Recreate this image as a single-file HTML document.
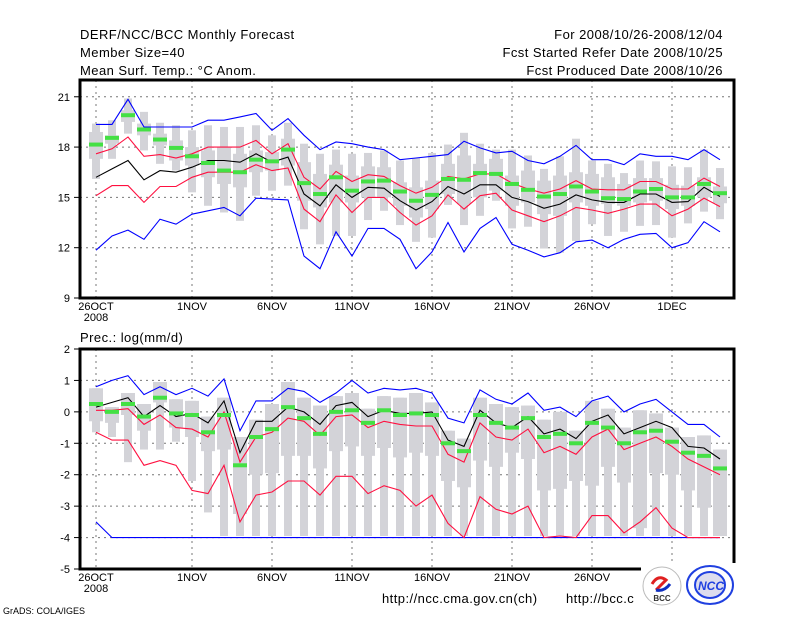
<!DOCTYPE html>
<html><head><meta charset="utf-8"><style>
html,body{margin:0;padding:0;background:#fff;}
svg{display:block;font-family:"Liberation Sans",sans-serif;}
</style></head><body>
<svg id="chart" width="800" height="618" viewBox="0 0 800 618" xmlns="http://www.w3.org/2000/svg">
<rect width="800" height="618" fill="#fff"/>
<g font-size="13" fill="#000" letter-spacing="0.45">
<text x="80" y="39">DERF/NCC/BCC Monthly Forecast</text>
<text x="80" y="57">Member Size=40</text>
<text x="80" y="75">Mean Surf. Temp.: °C Anom.</text>
<text x="723" y="39" text-anchor="end">For 2008/10/26-2008/12/04</text>
<text x="723" y="57" text-anchor="end">Fcst Started Refer Date 2008/10/25</text>
<text x="723" y="75" text-anchor="end">Fcst Produced Date 2008/10/26</text>
<text x="80" y="342">Prec.: log(mm/d)</text>
<text x="382" y="603">http://ncc.cma.gov.cn(ch)</text>
<text x="566" y="603">http://bcc.c</text>
<text x="3" y="614" font-size="9" letter-spacing="0">GrADS: COLA/IGES</text>
</g>
<g id="top"></g>
<g id="bot"></g>
<g>
<rect x="641" y="563" width="96" height="46" fill="#fff"/>
<circle cx="662" cy="586" r="19" fill="#fff" stroke="#bbb" stroke-width="1"/>
<path d="M652 584 q6 -10 14 -4 q-6 6 -10 10" fill="none" stroke="#e02020" stroke-width="3"/>
<path d="M656 590 q8 2 14 -6" fill="none" stroke="#1030c0" stroke-width="3"/>
<text x="662" y="601" font-size="8" text-anchor="middle" font-weight="bold" fill="#333">BCC</text>
<ellipse cx="710" cy="585" rx="23" ry="19" fill="#fff" stroke="#2040e0" stroke-width="2"/>
<ellipse cx="710" cy="585" rx="15" ry="13" fill="#dde" stroke="#2040e0" stroke-width="2"/>
<text x="711" y="590" font-size="12" text-anchor="middle" font-style="italic" font-weight="bold" fill="#2040e0">NCC</text>
</g>
</svg>
<script>
// ---- Temperature panel data (days 0..39 from 2008-10-26) ----
const tBlueMax=[19.35,19.35,20.85,19.2,19.2,19.2,19.2,19.6,19.6,19.8,20.0,19.0,19.7,18.7,17.85,18.3,18.2,18.0,17.85,17.25,17.35,17.45,17.55,18.35,17.95,17.65,17.75,17.2,17.0,17.45,18.1,17.25,17.25,16.95,17.6,17.45,17.45,17.25,17.85,17.25];
const tRedHi=[17.6,17.9,18.6,17.45,17.55,17.35,17.6,18.0,18.0,18.0,18.4,17.6,18.2,16.2,15.5,16.55,15.95,16.35,16.25,15.7,15.25,15.6,16.25,16.1,16.4,16.4,15.85,15.5,15.25,15.5,16.0,15.5,15.45,15.45,15.95,15.95,15.5,15.5,16.15,15.65];
const tMean=[16.2,16.7,17.2,16.05,16.6,16.5,16.8,17.2,17.2,17.1,17.6,17.1,17.4,15.2,14.5,15.75,15.0,15.6,15.55,14.8,14.25,14.75,15.65,15.2,15.75,15.75,15.0,14.75,14.35,14.6,15.15,14.85,14.7,14.7,15.2,15.2,14.7,14.75,15.6,15.05];
const tRedLo=[15.1,15.7,15.7,14.7,15.65,15.65,16.2,16.5,16.5,16.5,16.95,16.6,16.75,14.3,13.55,15.15,14.1,15.0,15.0,14.1,13.35,13.9,15.15,14.3,15.1,15.25,14.25,13.9,13.55,13.9,14.4,14.25,14.05,14.3,14.6,14.6,13.9,14.3,14.95,14.45];
const tBlueMin=[11.85,12.7,13.05,12.5,13.7,13.4,14.0,14.2,14.4,13.9,14.95,14.9,14.85,11.5,10.75,12.95,11.5,13.15,13.15,12.5,10.75,11.75,13.5,11.75,13.15,13.8,12.2,11.85,11.45,11.7,12.35,12.45,12.0,12.5,12.8,12.85,12.0,12.3,13.55,12.95];
const tBoxHi=[19.4,19.6,20.9,20.1,19.45,19.3,19.0,19.3,19.2,19.2,19.3,18.7,19.45,18.2,17.6,17.85,17.6,17.65,17.8,17.2,17.35,17.65,18.15,18.85,18.2,17.85,17.85,17.5,16.7,17.45,18.5,17.2,17.0,16.45,17.2,17.15,16.85,16.8,17.85,16.75];
const tBoxLo=[16.1,17.3,18.8,17.8,17.0,16.6,15.3,14.5,14.1,13.6,15.1,15.4,15.7,13.1,12.2,12.7,12.7,13.65,14.2,13.35,12.35,12.6,14.55,13.35,13.9,14.8,13.15,13.25,11.95,11.7,12.4,13.4,12.7,12.95,13.3,13.35,12.6,13.45,14.15,13.7];
const tIqrHi=[18.9,18.7,20.2,19.4,18.8,18.4,18.0,17.8,18.0,17.6,17.8,17.7,18.5,17.1,16.4,16.95,16.3,16.85,16.8,15.9,15.6,16.0,17.0,17.5,17.0,17.3,16.3,16.6,16.0,16.3,16.5,16.4,16.2,15.8,16.15,16.15,15.75,15.7,16.2,15.65];
const tIqrLo=[17.3,18.2,19.5,18.7,18.1,17.2,16.9,16.2,15.8,15.6,16.5,16.6,16.9,14.8,14.4,14.7,14.7,15.0,15.0,14.5,13.8,14.3,15.2,14.6,15.0,15.4,14.5,14.7,14.0,13.9,14.7,14.5,14.6,14.5,14.7,14.8,14.3,14.5,15.0,14.65];
const tGreen=[18.15,18.55,19.9,19.05,18.45,17.95,17.45,17.05,16.6,16.5,17.25,17.15,17.85,15.85,15.2,16.2,15.4,15.95,16.0,15.35,14.8,15.15,16.1,16.05,16.45,16.4,15.8,15.45,15.05,15.2,15.65,15.35,14.95,14.9,15.35,15.5,15.0,15.0,15.8,15.25];
const tTicks=[9,12,15,18,21];
// ---- Precipitation panel data ----
const pBlueMax=[0.8,1.0,1.15,0.55,0.8,0.55,0.75,0.5,1.05,-0.6,0.35,0.35,0.75,0.65,0.3,0.6,1.0,0.6,0.75,0.7,0.75,0.6,-0.2,-0.35,0.7,0.4,0.25,0.6,0.05,0.15,-0.15,0.35,0.5,0.0,0.25,0.4,0.0,-0.4,-0.4,-0.8];
const pMean=[0.15,0.3,0.45,-0.15,0.2,-0.15,-0.05,-0.35,0.35,-1.3,-0.3,-0.3,0.15,0.0,-0.4,0.2,0.3,-0.15,0.05,-0.05,-0.05,0.0,-0.9,-1.1,0.05,-0.35,-0.5,-0.15,-0.7,-0.55,-0.85,-0.3,-0.1,-0.7,-0.5,-0.3,-0.5,-1.1,-1.15,-1.5];
const pRedHi=[0.05,0.05,0.1,-0.4,-0.1,-0.5,-0.55,-0.8,0.0,-1.6,-0.8,-0.65,-0.2,-0.3,-0.75,-0.15,-0.1,-0.5,-0.3,-0.4,-0.45,-0.45,-1.35,-1.6,-0.35,-0.8,-0.9,-0.55,-1.3,-1.1,-1.35,-0.8,-0.55,-1.2,-1.0,-0.8,-1.1,-1.5,-1.75,-2.0];
const pRedLo=[-0.65,-0.9,-0.9,-1.7,-1.55,-1.7,-2.5,-2.6,-1.7,-3.5,-2.65,-2.55,-2.2,-2.2,-2.65,-2.05,-2.05,-2.6,-2.35,-2.5,-3.0,-2.65,-3.55,-4.0,-2.7,-3.1,-3.25,-3.0,-4.0,-3.95,-4.0,-3.3,-3.3,-3.85,-3.5,-3.05,-3.7,-4.0,-4.0,-4.0];
const pBlueMin=[-3.5,-4,-4,-4,-4,-4,-4,-4,-4,-4,-4,-4,-4,-4,-4,-4,-4,-4,-4,-4,-4,-4,-4,-4,-4,-4,-4,-4,-4,-4,-4,-4,-4,-4,-4,-4,-4,-4,-4,-4];
const pBoxHi=[0.75,0.15,0.6,0.25,0.95,0.4,0.35,-0.15,0.45,-0.8,-0.25,0.25,0.95,0.45,0.2,0.5,0.6,0.1,0.5,0.45,0.6,0.3,-0.6,-0.85,0.45,0.25,0.15,0.2,-0.25,0.0,-0.6,0.35,0.1,-0.5,0.05,-0.05,-0.5,-0.8,-0.75,-1.2];
const pBoxLo=[-0.65,-0.8,-1.6,-1.2,-1.2,-0.95,-2.2,-3.2,-3.95,-3.95,-3.95,-3.95,-3.95,-3.95,-3.95,-3.95,-3.95,-3.95,-3.95,-3.95,-3.95,-3.95,-3.95,-3.95,-3.95,-3.95,-3.95,-3.95,-3.95,-3.95,-3.95,-3.95,-3.95,-3.95,-3.95,-3.95,-3.95,-3.95,-3.95,-3.95];
const pIqrLo=[-0.3,-0.35,-0.1,-0.6,0.3,-0.5,-0.8,-1.25,-1.2,-3.25,-2.0,-1.95,-1.4,-1.4,-1.8,-1.25,-1.1,-1.4,-1.15,-1.45,-1.3,-1.4,-2.2,-2.4,-1.55,-1.75,-1.3,-1.5,-2.5,-2.45,-2.2,-2.35,-1.75,-2.25,-3.7,-1.95,-2.0,-2.5,-3.05,-3.95];
const pGreen=[0.25,0.0,0.25,-0.15,0.45,-0.05,-0.1,-0.65,-0.1,-1.7,-0.8,-0.55,0.15,-0.2,-0.7,0.0,0.05,-0.35,0.05,-0.1,-0.05,-0.1,-1.0,-1.25,-0.1,-0.35,-0.5,-0.2,-0.8,-0.7,-1.0,-0.35,-0.5,-1.0,-0.65,-0.6,-0.95,-1.3,-1.4,-1.8];
const pTicks=[-5,-4,-3,-2,-1,0,1,2];
const dateLabels=["26OCT","1NOV","6NOV","11NOV","16NOV","21NOV","26NOV","1DEC"];
const dateDays=[0,6,11,16,21,26,31,36];

const NS="http://www.w3.org/2000/svg";
const X0=80,X1=734;
function xDay(d){return 96+16*d;}
function mk(parent,tag,attrs){const e=document.createElementNS(NS,tag);for(const k in attrs)e.setAttribute(k,attrs[k]);parent.appendChild(e);return e;}

function panel(g,top,bot,vmin,vmax,ticks,series){
  const y=v=>bot-(v-vmin)/(vmax-vmin)*(bot-top);
  ticks.forEach(t=>{ if(t>vmin&&t<vmax){const l=mk(g,'line',{x1:X0,x2:X1,y1:y(t),y2:y(t),stroke:'#777','stroke-width':1,'stroke-dasharray':'2,4'});
    
    }
    const tl=mk(g,'text',{x:70,y:y(t)+4,'font-size':11,'text-anchor':'end'});tl.textContent=t;
    
    
    const tk=mk(g,'line',{x1:74,x2:X0,y1:y(t),y2:y(t),stroke:'#000'});
    
    
  });
  dateDays.forEach((d,i)=>{const l=mk(g,'line',{x1:xDay(d),x2:xDay(d),y1:top,y2:bot,stroke:'#777','stroke-width':1,'stroke-dasharray':'2,4'});
    
    
    const t=mk(g,'text',{x:xDay(d),y:bot+12,'font-size':11,'text-anchor':'middle'});t.textContent=dateLabels[i];
    
    
    if(i===0){const t2=mk(g,'text',{x:xDay(d),y:bot+23,'font-size':11,'text-anchor':'middle'});t2.textContent='2008';
      
      }
  });
  for(let d=0;d<40;d++){
    const x=xDay(d);
    const r1=mk(g,'rect',{x:x-4,y:y(series.boxHi[d]),width:8,height:y(series.boxLo[d])-y(series.boxHi[d]),fill:'#d3d3d8'});
    
    
    const r2=mk(g,'rect',{x:x-7,y:y(series.iqrHi[d]),width:14,height:Math.max(1,y(series.iqrLo[d])-y(series.iqrHi[d])),fill:'#d3d3d8'});
    
    
  }
  const lines=[[series.blueMin,'#0000ff','min-line'],[series.redLo,'#ff1040','lower-line'],[series.redHi,'#ff1040','upper-line'],[series.blueMax,'#0000ff','max-line'],[series.mean,'#000','mean-line']];
  lines.forEach(([arr,c,n])=>{const p=mk(g,'polyline',{points:arr.map((v,d)=>xDay(d)+','+y(v).toFixed(1)).join(' '),fill:'none',stroke:c,'stroke-width':1.1});
    
    });
  for(let d=0;d<40;d++){
    const r=mk(g,'rect',{x:xDay(d)-7,y:y(series.green[d])-2,width:14,height:4,fill:'#44e044'});
    
    
  }
  const f=mk(g,'rect',{x:X0,y:top,width:X1-X0,height:bot-top,fill:'none',stroke:'#000','stroke-width':3});
  
  
}
panel(document.getElementById('top'),80,298,9,22,tTicks,{blueMax:tBlueMax,redHi:tRedHi,mean:tMean,redLo:tRedLo,blueMin:tBlueMin,boxHi:tBoxHi,boxLo:tBoxLo,iqrHi:tIqrHi,iqrLo:tIqrLo,green:tGreen});
panel(document.getElementById('bot'),349,569,-5,2,pTicks,{blueMax:pBlueMax,redHi:pRedHi,mean:pMean,redLo:pRedLo,blueMin:pBlueMin,boxHi:pBoxHi,boxLo:pBoxLo,iqrHi:pBoxHi,iqrLo:pIqrLo,green:pGreen});
</script>
</body></html>
